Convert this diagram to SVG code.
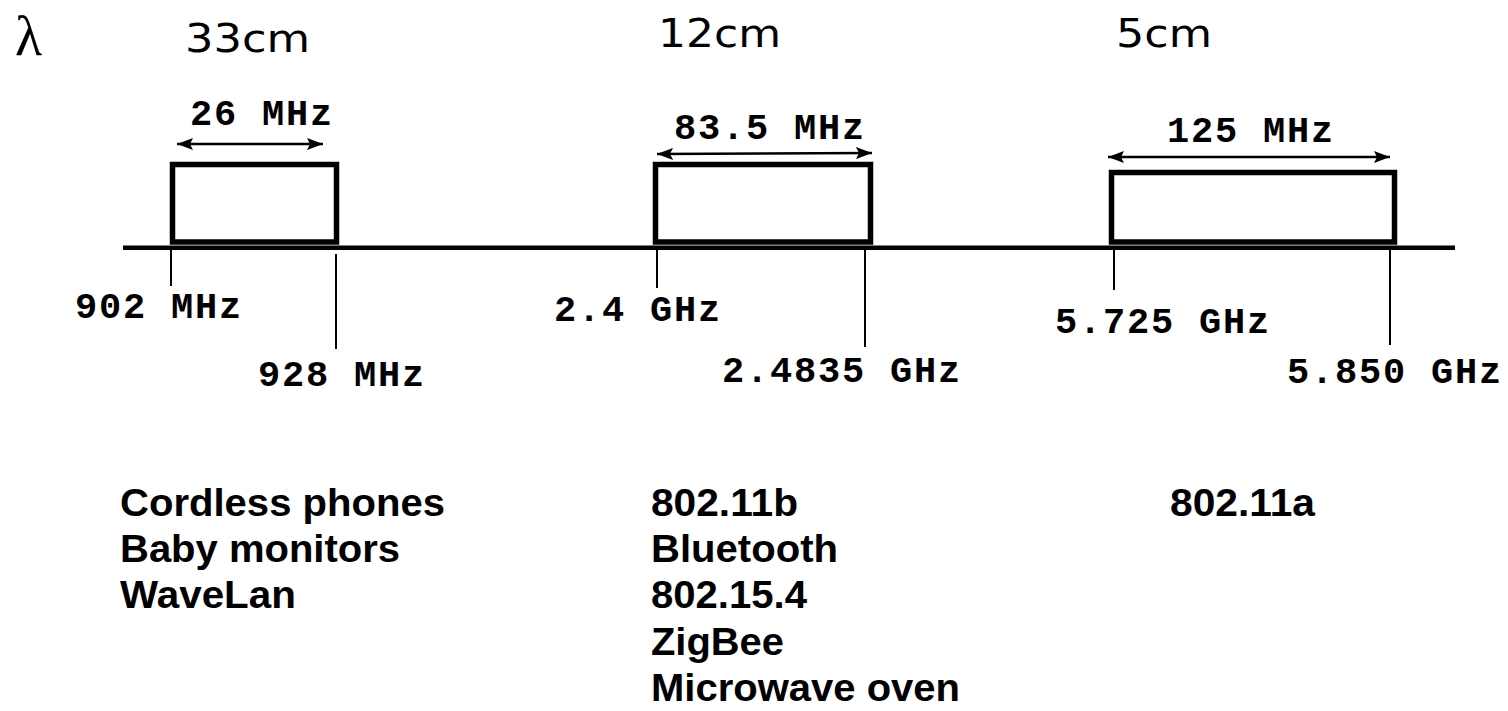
<svg xmlns="http://www.w3.org/2000/svg" width="1508" height="711" viewBox="0 0 1508 711">
<style>
.mono{font-family:"Liberation Mono","Courier New",monospace;font-weight:bold;font-size:37px;letter-spacing:1.8px;fill:#000}
.wl{font-family:"DejaVu Sans",Verdana,sans-serif;font-size:39px;fill:#000}
.app{font-family:"Liberation Sans",Arial,sans-serif;font-weight:bold;font-size:38px;fill:#000}
.box{fill:none;stroke:#000;stroke-width:5.5}
.tick{stroke:#000;stroke-width:2;fill:none}
.arr{stroke:#000;stroke-width:2.5;fill:none;marker-start:url(#ah);marker-end:url(#ah)}
</style>
<defs>
<marker id="ah" viewBox="0 0 16 12" refX="16" refY="6" markerWidth="16" markerHeight="12" markerUnits="userSpaceOnUse" orient="auto-start-reverse">
<path d="M0,0 L16,6 L0,12 L3,6 Z" fill="#000"/>
</marker>
</defs>
<rect width="1508" height="711" fill="#fff"/>
<g id="lambda"><text x="15" y="55" style="font-family:'Liberation Serif','Times New Roman',serif;font-size:56px;fill:#000">λ</text></g>
<g id="axis">
<line x1="123" y1="247.75" x2="1455" y2="247.75" stroke="#000" stroke-width="4.5"/>
</g>
<g id="band-900">
<text class="wl" x="185" y="52" textLength="125" lengthAdjust="spacingAndGlyphs">33cm</text>
<rect class="box" x="172.5" y="164.5" width="164" height="77.5"/>
<text class="mono" x="190" y="125">26 MHz</text>
<text class="mono" x="75" y="318">902 MHz</text>
<text class="mono" x="258" y="386">928 MHz</text>
</g>
<g id="band-2400">
<text class="wl" x="658" y="47" textLength="123" lengthAdjust="spacingAndGlyphs">12cm</text>
<rect class="box" x="655.5" y="164.5" width="215" height="77.5"/>
<text class="mono" x="674" y="139">83.5 MHz</text>
<text class="mono" x="554" y="321">2.4 GHz</text>
<text class="mono" x="722" y="382">2.4835 GHz</text>
</g>
<g id="band-5800">
<text class="wl" x="1116" y="47" textLength="96" lengthAdjust="spacingAndGlyphs">5cm</text>
<rect class="box" x="1111.5" y="172.5" width="283" height="69.5"/>
<text class="mono" x="1167" y="142">125 MHz</text>
<text class="mono" x="1055" y="333">5.725 GHz</text>
<text class="mono" x="1287" y="383">5.850 GHz</text>
</g>
<g id="connectors">
<line class="tick" x1="171" y1="250" x2="171" y2="286"/>
<line class="tick" x1="336" y1="254" x2="336" y2="349"/>
<line class="tick" x1="657" y1="250" x2="657" y2="288"/>
<line class="tick" x1="865" y1="250" x2="865" y2="347"/>
<line class="tick" x1="1114" y1="250" x2="1114" y2="290"/>
<line class="tick" x1="1390" y1="250" x2="1390" y2="345"/>
<line class="arr" x1="177" y1="144" x2="323" y2="144"/>
<line class="arr" x1="657" y1="154" x2="872" y2="153"/>
<line class="arr" x1="1108" y1="157" x2="1390" y2="157"/>
</g>
<g id="apps-900">
<text class="app" x="120" y="516" textLength="325" lengthAdjust="spacingAndGlyphs">Cordless phones</text>
<text class="app" x="120" y="562" textLength="280" lengthAdjust="spacingAndGlyphs">Baby monitors</text>
<text class="app" x="120" y="608" textLength="176" lengthAdjust="spacingAndGlyphs">WaveLan</text>
</g>
<g id="apps-2400">
<text class="app" x="651" y="516" textLength="147" lengthAdjust="spacingAndGlyphs">802.11b</text>
<text class="app" x="651" y="562" textLength="187" lengthAdjust="spacingAndGlyphs">Bluetooth</text>
<text class="app" x="651" y="608" textLength="156" lengthAdjust="spacingAndGlyphs">802.15.4</text>
<text class="app" x="651" y="655" textLength="133" lengthAdjust="spacingAndGlyphs">ZigBee</text>
<text class="app" x="651" y="701" textLength="309" lengthAdjust="spacingAndGlyphs">Microwave oven</text>
</g>
<g id="apps-5800">
<text class="app" x="1170" y="516" textLength="145" lengthAdjust="spacingAndGlyphs">802.11a</text>
</g>
</svg>
